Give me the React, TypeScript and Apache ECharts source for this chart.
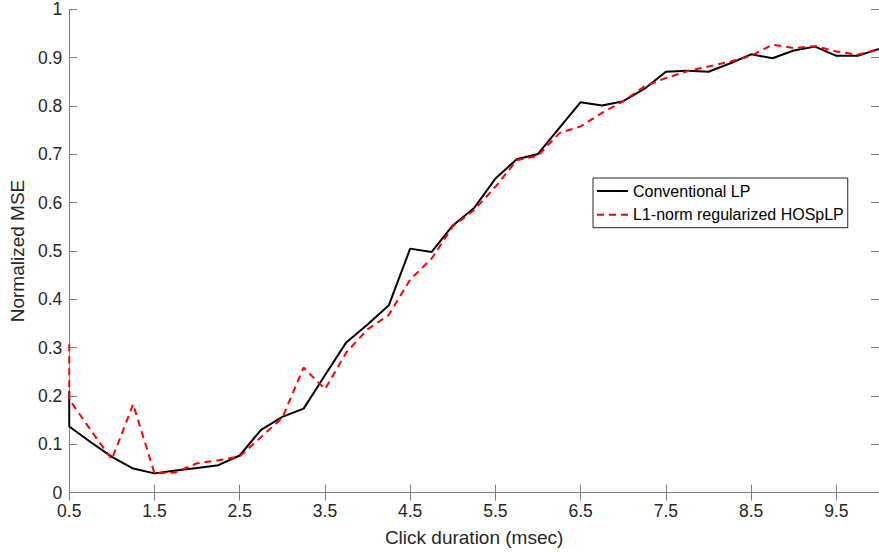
import React, { useEffect, useRef } from "react";
import * as echarts from "echarts";

const xValues = [0.5, 0.5, 0.75, 1.0, 1.25, 1.5, 1.75, 2.0, 2.25, 2.5, 2.75, 3.0, 3.25, 3.5, 3.75, 4.0, 4.25, 4.5, 4.75, 5.0, 5.25, 5.5, 5.75, 6.0, 6.25, 6.5, 6.75, 7.0, 7.25, 7.5, 7.75, 8.0, 8.25, 8.5, 8.75, 9.0, 9.25, 9.5, 9.75, 10.0];

const conventionalLP = [0.21, 0.137, 0.105, 0.074, 0.05, 0.04, 0.046, 0.051, 0.057, 0.077, 0.13, 0.157, 0.174, 0.243, 0.311, 0.348, 0.388, 0.505, 0.498, 0.553, 0.589, 0.65, 0.69, 0.701, 0.755, 0.808, 0.801, 0.81, 0.836, 0.871, 0.873, 0.871, 0.888, 0.907, 0.899, 0.915, 0.923, 0.904, 0.904, 0.918];

const hospLP = [0.307, 0.193, 0.13, 0.069, 0.183, 0.04, 0.042, 0.061, 0.067, 0.075, 0.115, 0.155, 0.259, 0.214, 0.29, 0.338, 0.368, 0.441, 0.484, 0.551, 0.585, 0.633, 0.688, 0.697, 0.744, 0.758, 0.786, 0.81, 0.841, 0.858, 0.872, 0.882, 0.892, 0.904, 0.927, 0.92, 0.924, 0.913, 0.906, 0.918];

const seriesNames = ["Conventional LP", "L1-norm regularized HOSpLP"];
const xAxisTitle = "Click duration (msec)";
const yAxisTitle = "Normalized MSE";

const FONT = "'Liberation Sans', Arial, Helvetica, sans-serif";
const AXIS_COLOR = "#808080";
const TEXT_COLOR = "#262626";

export default function App() {
  const ref = useRef<HTMLDivElement>(null);

  useEffect(() => {
    if (!ref.current) return;
    const chart = echarts.init(ref.current, undefined, { renderer: "svg" });

    const pair = (ys: number[]) => ys.map((y, i) => [xValues[i], y]);

    const commonX = {
      type: "value" as const,
      min: 0.5,
      max: 10,
      interval: 1,
      splitLine: { show: false },
      axisLine: { show: true, lineStyle: { color: AXIS_COLOR, width: 1 } },
      axisTick: { show: true, inside: true, length: 8, lineStyle: { color: AXIS_COLOR } },
    };
    const commonY = {
      type: "value" as const,
      min: 0,
      max: 1,
      interval: 0.1,
      splitLine: { show: false },
      axisLine: { show: true, lineStyle: { color: AXIS_COLOR, width: 1 } },
      axisTick: { show: true, inside: true, length: 8, lineStyle: { color: AXIS_COLOR } },
    };

    chart.setOption({
      animation: false,
      backgroundColor: "#ffffff",
      grid: { left: 66, right: -3, top: 9.4, bottom: 60.3, containLabel: false },
      legend: {
        show: true,
        orient: "vertical",
        left: 593,
        top: 178,
        padding: [5, 4, 5, 3],
        itemGap: 7.7,
        itemWidth: 31,
        itemHeight: 14,
        borderColor: TEXT_COLOR,
        borderWidth: 1,
        backgroundColor: "#ffffff",
        itemStyle: { opacity: 0 },
        textStyle: { fontSize: 16, color: "#000000", fontFamily: FONT },
        data: seriesNames,
      },
      xAxis: [
        {
          ...commonX,
          position: "bottom",
          name: xAxisTitle,
          nameLocation: "middle",
          nameGap: 35,
          nameTextStyle: { fontSize: 19, color: TEXT_COLOR, fontFamily: FONT },
          axisLabel: {
            show: true,
            color: TEXT_COLOR,
            fontSize: 17.5,
            fontFamily: FONT,
            margin: 9,
            showMaxLabel: false,
            formatter: (v: number) => v.toFixed(1),
          },
        },
        {
          ...commonX,
          position: "top",
          axisLabel: { show: false },
        },
      ],
      yAxis: [
        {
          ...commonY,
          position: "left",
          name: yAxisTitle,
          nameLocation: "middle",
          nameGap: 37,
          nameTextStyle: { fontSize: 19, color: TEXT_COLOR, fontFamily: FONT },
          axisLabel: {
            show: true,
            color: TEXT_COLOR,
            fontSize: 17.5,
            fontFamily: FONT,
            margin: 7,
            formatter: (v: number) => String(parseFloat(v.toFixed(1))),
          },
        },
        {
          ...commonY,
          position: "right",
          axisLabel: { show: false },
        },
      ],
      series: [
        {
          name: seriesNames[0],
          type: "line",
          xAxisIndex: 0,
          yAxisIndex: 0,
          data: pair(conventionalLP),
          symbol: "none",
          lineStyle: { color: "#000000", width: 2, type: "solid" },
          itemStyle: { color: "#000000" },
          z: 2,
        },
        {
          name: seriesNames[1],
          type: "line",
          xAxisIndex: 0,
          yAxisIndex: 0,
          data: pair(hospLP),
          symbol: "none",
          lineStyle: { color: "#ff0000", width: 2, type: [7, 5] },
          itemStyle: { color: "#ff0000" },
          z: 3,
        },
      ],
    });

    return () => chart.dispose();
  }, []);

  return (
    <div
      ref={ref}
      style={{ position: "fixed", left: 0, top: 0, width: 879, height: 553, background: "#fff" }}
    />
  );
}
